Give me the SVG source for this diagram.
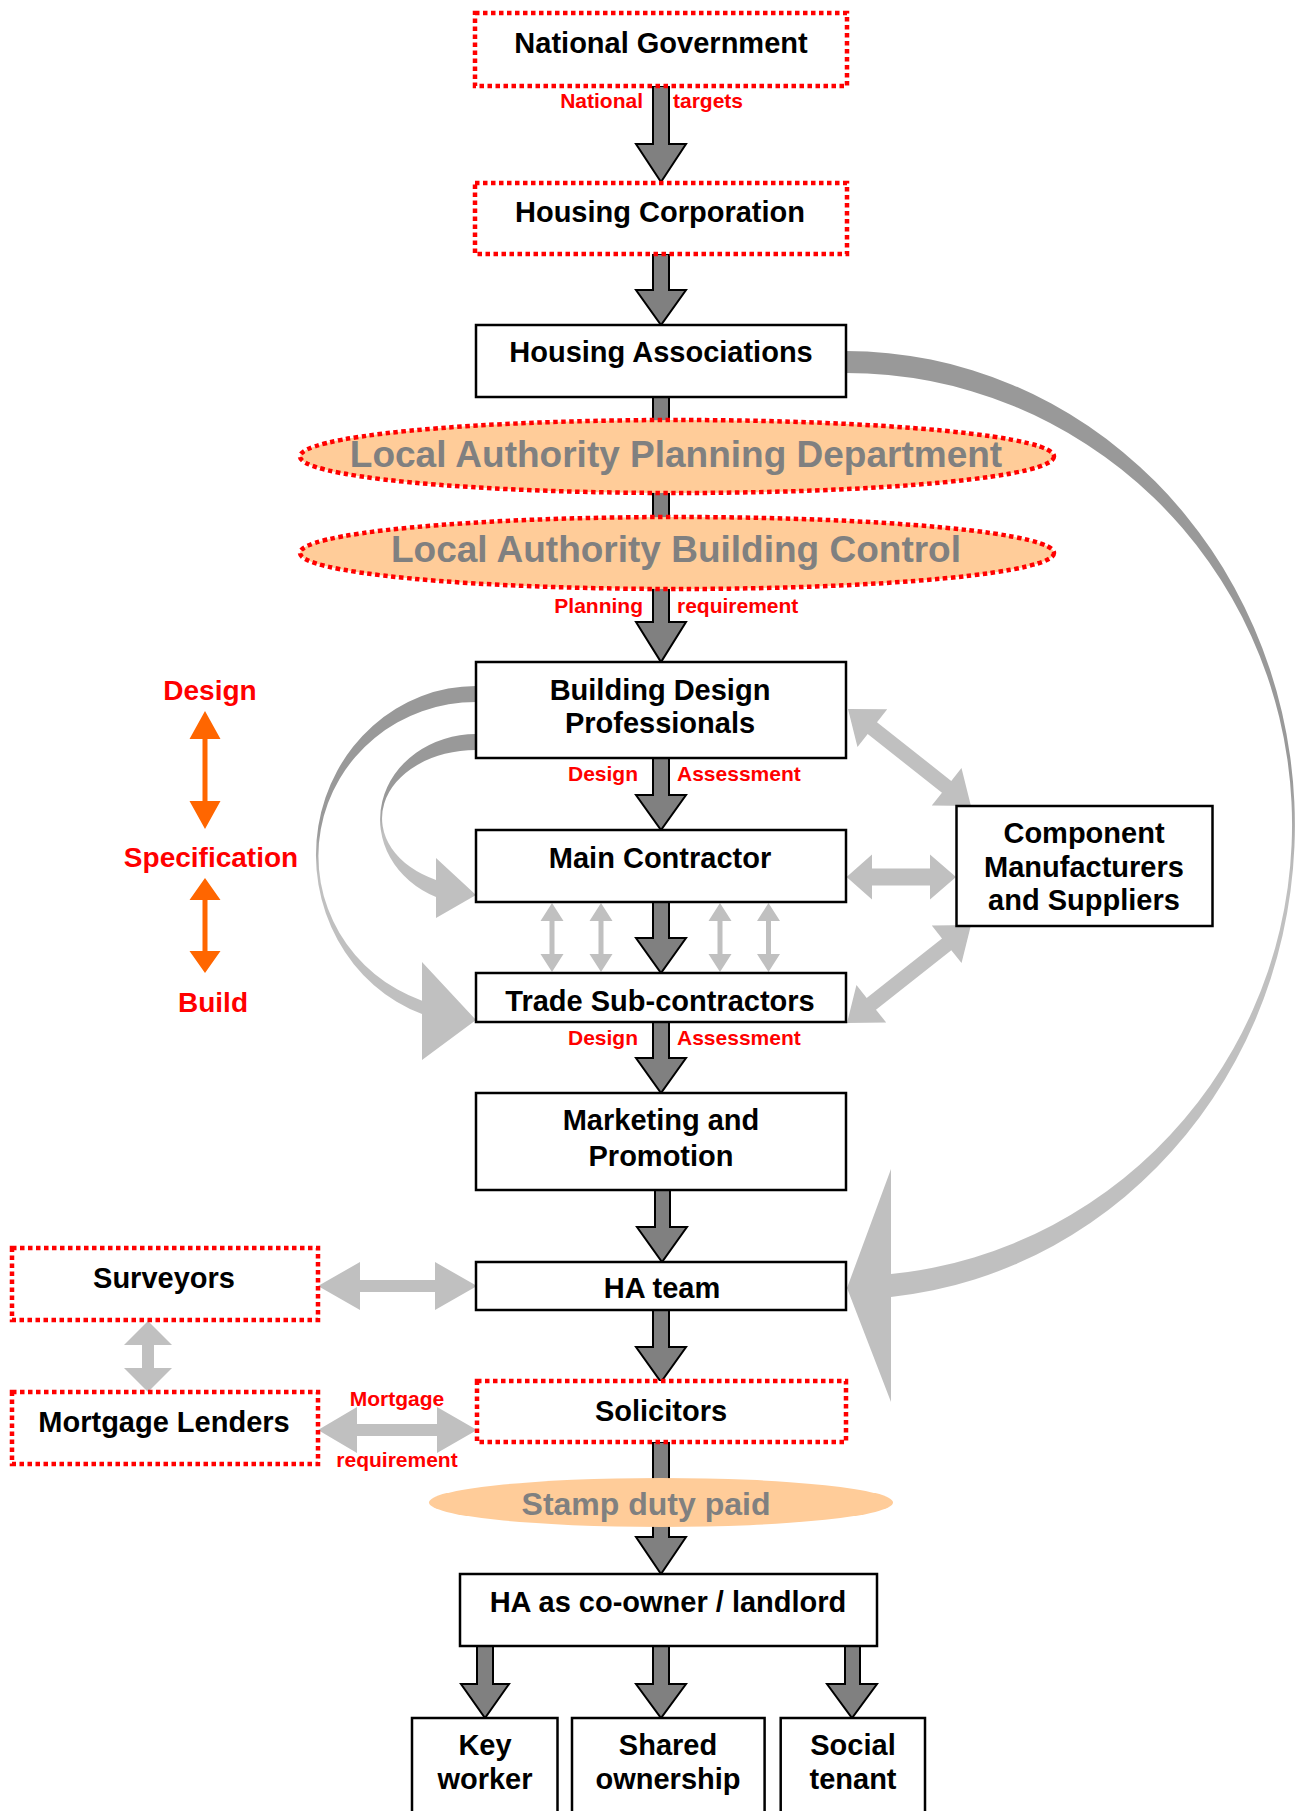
<svg xmlns="http://www.w3.org/2000/svg" xmlns:xlink="http://www.w3.org/1999/xlink" width="1298" height="1811" viewBox="0 0 1298 1811">
<style>
.box{fill:#fff;stroke:#000;stroke-width:2.5}
.dbox{fill:#fff;stroke:#f00;stroke-width:4.5;stroke-dasharray:4.5 3.5}
.ell{fill:#FFCC99;stroke:#f00;stroke-width:4.5;stroke-dasharray:4.5 3.5}
.t{font-family:"Liberation Sans",Arial,Helvetica,sans-serif;font-weight:bold;font-size:29px;fill:#000;text-anchor:middle}
.lbl{font-size:21px;fill:#f00}
.et{font-size:37px;fill:#808080}
.side{font-size:28px;fill:#f00}
.arr{fill:#808080;stroke:#000;stroke-width:2}
.ga{fill:#C0C0C0}
.oa{fill:#FF6600}
</style>
<defs>
<linearGradient id="gR" gradientUnits="userSpaceOnUse" x1="0" y1="351" x2="0" y2="1297">
<stop offset="0" stop-color="#999"/><stop offset="0.45" stop-color="#999"/><stop offset="0.56" stop-color="#C0C0C0"/><stop offset="1" stop-color="#C0C0C0"/>
</linearGradient>
<linearGradient id="gL1" gradientUnits="userSpaceOnUse" x1="0" y1="686" x2="0" y2="1060">
<stop offset="0" stop-color="#999"/><stop offset="0.385" stop-color="#999"/><stop offset="0.505" stop-color="#C0C0C0"/><stop offset="1" stop-color="#C0C0C0"/>
</linearGradient>
<linearGradient id="gL2" gradientUnits="userSpaceOnUse" x1="0" y1="734" x2="0" y2="918">
<stop offset="0" stop-color="#999"/><stop offset="0.39" stop-color="#999"/><stop offset="0.55" stop-color="#C0C0C0"/><stop offset="1" stop-color="#C0C0C0"/>
</linearGradient>
<path id="sv" class="ga" d="M0 903 L11.5 921 L2.5 921 L2.5 954 L11.5 954 L0 972 L-11.5 954 L-2.5 954 L-2.5 921 L-11.5 921 Z"/>
</defs>

<g id="connectors">
<path fill="url(#gR)" d="M846 351 A449 474.2 0 0 1 891 1297 L891 1402 L847 1288 L891 1169 L891 1274.1 A446 451.7 0 0 0 846 373 Z"/>
<path fill="url(#gL1)" d="M476 686 A160 169 0 0 0 422 1014.1 L422 1060 L476 1020 L422 962 L422 1000.7 A157.5 154 0 0 1 476 702 Z"/>
<path fill="url(#gL2)" d="M476 734 A96 85.4 0 0 0 436 897 L436 918 L476 895 L436 858 L436 879.9 A94 68.2 0 0 1 476 750 Z"/>
<path class="arr" d="M653 86 L669 86 L669 144 L686 144 L661 182 L636 144 L653 144 Z"/>
<path class="arr" d="M653 254 L669 254 L669 290 L686 290 L661 325 L636 290 L653 290 Z"/>
<path class="arr" d="M653 397 L669 397 L669 622 L686 622 L661 662 L636 622 L653 622 Z"/>
<path class="arr" d="M653 758 L669 758 L669 795 L686 795 L661 830 L636 795 L653 795 Z"/>
<path class="arr" d="M653 902 L669 902 L669 938 L686 938 L661 973 L636 938 L653 938 Z"/>
<path class="arr" d="M653 1022 L669 1022 L669 1058 L686 1058 L661 1093 L636 1058 L653 1058 Z"/>
<path class="arr" d="M655 1190 L670 1190 L670 1227 L687 1227 L662 1262 L637 1227 L655 1227 Z"/>
<path class="arr" d="M653 1310 L669 1310 L669 1347 L686 1347 L661 1382 L636 1347 L653 1347 Z"/>
<path class="arr" d="M653 1442 L669 1442 L669 1537 L686 1537 L661 1574 L636 1537 L653 1537 Z"/>
<path class="arr" d="M477 1646 L493 1646 L493 1684 L509 1684 L485 1718 L461 1684 L477 1684 Z"/>
<path class="arr" d="M653 1646 L669 1646 L669 1684 L686 1684 L661 1718 L636 1684 L653 1684 Z"/>
<path class="arr" d="M845 1646 L860 1646 L860 1684 L877 1684 L852 1718 L827 1684 L845 1684 Z"/>
<use xlink:href="#sv" x="552"/>
<use xlink:href="#sv" x="601"/>
<use xlink:href="#sv" x="720"/>
<use xlink:href="#sv" x="768.5"/>
<path class="ga" transform="translate(848 709) rotate(38.26)" d="M0 0 L31 -24 L31 -7.5 L125.6 -7.5 L125.6 -24 L156.6 0 L125.6 24 L125.6 7.5 L31 7.5 L31 24 Z"/>
<path class="ga" transform="translate(847 1023) rotate(-38.3)" d="M0 0 L31 -24 L31 -7.5 L127 -7.5 L127 -24 L158 0 L127 24 L127 7.5 L31 7.5 L31 24 Z"/>
<path class="ga" d="M846.6 877 L872 854.5 L872 868.5 L930 868.5 L930 854.5 L956 877 L930 899.5 L930 885.5 L872 885.5 L872 899.5 Z"/>
<path class="ga" d="M318 1286 L360 1262 L360 1280 L435 1280 L435 1262 L477 1286 L435 1310 L435 1292 L360 1292 L360 1310 Z"/>
<path class="ga" d="M318 1430 L357 1407 L357 1424 L437 1424 L437 1407 L477 1430 L437 1453 L437 1436 L357 1436 L357 1453 Z"/>
<path class="ga" d="M148 1321 L172 1345 L154 1345 L154 1368 L172 1368 L148 1392 L124 1368 L142 1368 L142 1345 L124 1345 Z"/>
<path class="oa" d="M205 711 L220.5 739 L207.5 739 L207.5 801 L220.5 801 L205 829 L189.5 801 L202.5 801 L202.5 739 L189.5 739 Z"/>
<path class="oa" d="M205 878 L220.5 900 L207.5 900 L207.5 951 L220.5 951 L205 973 L189.5 951 L202.5 951 L202.5 900 L189.5 900 Z"/>
<text class="t lbl" x="643" y="108" style="text-anchor:end">National</text>
<text class="t lbl" x="673" y="108" style="text-anchor:start">targets</text>
<text class="t lbl" x="643" y="613" style="text-anchor:end">Planning</text>
<text class="t lbl" x="677" y="613" style="text-anchor:start">requirement</text>
<text class="t lbl" x="638" y="781" style="text-anchor:end">Design</text>
<text class="t lbl" x="677" y="781" style="text-anchor:start">Assessment</text>
<text class="t lbl" x="638" y="1045" style="text-anchor:end">Design</text>
<text class="t lbl" x="677" y="1045" style="text-anchor:start">Assessment</text>
<text class="t lbl" x="397" y="1406">Mortgage</text>
<text class="t lbl" x="397" y="1467">requirement</text>
</g>

<g id="side-labels">
<text class="t side" x="210" y="700">Design</text>
<text class="t side" x="211" y="867">Specification</text>
<text class="t side" x="213" y="1012">Build</text>
</g>

<g id="national-government"><rect class="dbox" x="475" y="13" width="372" height="73"/><text class="t" x="661" y="53">National Government</text></g>
<g id="housing-corporation"><rect class="dbox" x="475" y="183" width="372" height="71"/><text class="t" x="660" y="222">Housing Corporation</text></g>
<g id="housing-associations"><rect class="box" x="476" y="325" width="370" height="72"/><text class="t" x="661" y="362">Housing Associations</text></g>
<g id="la-planning"><ellipse class="ell" cx="677" cy="456.5" rx="377" ry="36.5"/><text class="t et" x="676" y="467">Local Authority Planning Department</text></g>
<g id="la-building-control"><ellipse class="ell" cx="677" cy="553" rx="377" ry="36"/><text class="t et" x="676" y="562">Local Authority Building Control</text></g>
<g id="building-design"><rect class="box" x="476" y="662" width="370" height="96"/><text class="t" x="660" y="700">Building Design</text><text class="t" x="660" y="733">Professionals</text></g>
<g id="main-contractor"><rect class="box" x="476" y="830" width="370" height="72"/><text class="t" x="660" y="868">Main Contractor</text></g>
<g id="trade-sub"><rect class="box" x="476" y="973" width="370" height="49"/><text class="t" x="660" y="1011">Trade Sub-contractors</text></g>
<g id="component"><rect class="box" x="956.5" y="806" width="256" height="120"/><text class="t" x="1084" y="843">Component</text><text class="t" x="1084" y="877">Manufacturers</text><text class="t" x="1084" y="910">and Suppliers</text></g>
<g id="marketing"><rect class="box" x="476" y="1093" width="370" height="97"/><text class="t" x="661" y="1130">Marketing and</text><text class="t" x="661" y="1166">Promotion</text></g>
<g id="ha-team"><rect class="box" x="476" y="1262" width="370" height="48"/><text class="t" x="662" y="1298">HA team</text></g>
<g id="surveyors"><rect class="dbox" x="12" y="1248" width="306" height="72"/><text class="t" x="164" y="1288">Surveyors</text></g>
<g id="mortgage-lenders"><rect class="dbox" x="12" y="1392" width="306" height="72"/><text class="t" x="164" y="1432">Mortgage Lenders</text></g>
<g id="solicitors"><rect class="dbox" x="477" y="1381" width="369" height="61"/><text class="t" x="661" y="1421">Solicitors</text></g>
<g id="stamp-duty"><ellipse cx="661" cy="1502.5" rx="232" ry="24.5" fill="#FFCC99"/><text class="t" x="646" y="1515" style="font-size:32px;fill:#808080">Stamp duty paid</text></g>
<g id="ha-landlord"><rect class="box" x="460" y="1574" width="417" height="72"/><text class="t" x="668" y="1612">HA as co-owner / landlord</text></g>
<g id="key-worker"><rect class="box" x="412" y="1718" width="145.5" height="110"/><text class="t" x="485" y="1755">Key</text><text class="t" x="485" y="1789">worker</text></g>
<g id="shared-ownership"><rect class="box" x="572" y="1718" width="192.6" height="110"/><text class="t" x="668" y="1755">Shared</text><text class="t" x="668" y="1789">ownership</text></g>
<g id="social-tenant"><rect class="box" x="780.7" y="1718" width="144.3" height="110"/><text class="t" x="853" y="1755">Social</text><text class="t" x="853" y="1789">tenant</text></g>
</svg>
